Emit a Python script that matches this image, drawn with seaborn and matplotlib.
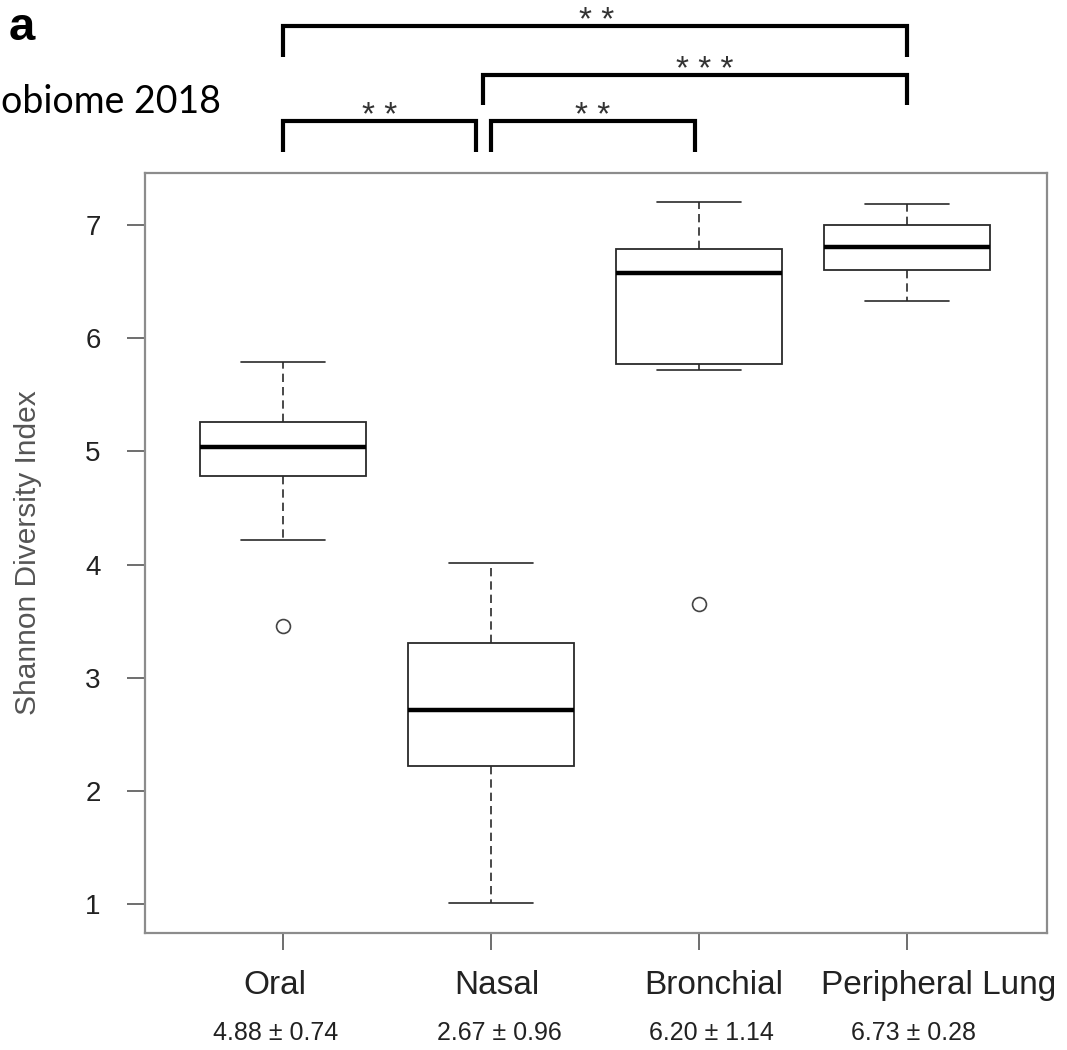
import matplotlib
matplotlib.use("Agg")
import matplotlib.pyplot as plt
import pandas as pd
import seaborn as sns

# Shannon diversity per sampling site: five-number summaries and outliers
sites = ["Oral", "Nasal", "Bronchial", "Peripheral Lung"]
lower_whisker = [4.22, 1.01, 5.72, 6.33]
q1 = [4.78, 2.22, 5.77, 6.60]
median = [5.04, 2.71, 6.58, 6.81]
q3 = [5.26, 3.31, 6.79, 7.00]
upper_whisker = [5.79, 4.01, 7.20, 7.19]
outliers = [[3.46], [], [3.65], []]

# mean ± sd reported under each site
means = [4.88, 2.67, 6.20, 6.73]
sds = [0.74, 0.96, 1.14, 0.28]

# significance labels for pairwise comparisons
sig_labels = ["* *", "* *", "* * *", "* *"]

# long-form table whose quartiles reproduce the summaries above
rows = []
for site, lo, a, m, b, hi, out in zip(sites, lower_whisker, q1, median, q3,
                                      upper_whisker, outliers):
    vals = (out if out else [lo]) + [lo, a, a, m, b, b, hi, hi]
    rows += [(site, v) for v in vals]
df = pd.DataFrame(rows, columns=["site", "value"])

sns.set_theme(style="ticks")
plt.rcParams["font.family"] = ["Liberation Sans", "DejaVu Sans"]

fig = plt.figure(figsize=(10.67, 10.5), dpi=100)
ax = fig.add_axes([0.1359, 0.1114, 0.8454, 0.7238])

line_col = "#2a2a2a"
sns.boxplot(
    data=df, x="site", y="value", order=sites, ax=ax,
    width=0.8, whis=1.5, color="white", linecolor=line_col, linewidth=1.3,
    capwidths=0.4,
    medianprops=dict(color="black", linewidth=3.2),
    whiskerprops=dict(color=line_col, linewidth=1.2, linestyle=(0, (5, 3))),
    capprops=dict(color=line_col, linewidth=1.2),
    flierprops=dict(marker="o", markersize=10, markerfacecolor="none",
                    markeredgecolor="#444444", markeredgewidth=1.2),
)

ax.set_xlim(-0.663, 3.673)
ax.set_ylim(0.743, 7.46)
ax.set_yticks(range(1, 8))
ax.set_xlabel("")
ax.set_ylabel("Shannon Diversity Index", fontsize=21.5, color="#555555",
              labelpad=31)

for sp in ax.spines.values():
    sp.set_visible(True)
    sp.set_color("#8c8c8c")
    sp.set_linewidth(1.6)

ax.tick_params(axis="y", direction="out", length=13, width=1.2,
               color="#555555", pad=19, labelsize=20, labelcolor="#222222")
ax.tick_params(axis="x", direction="out", length=12.5, width=1.2,
               color="#555555", labelbottom=False)

# site names and mean ± sd under each tick (horizontal offsets in data units)
name_shift = [-0.04, 0.03, 0.07, 0.15]
stat_shift = [-0.035, 0.04, 0.06, 0.03]
xtrans = ax.get_xaxis_transform()
for i, (site, m, s) in enumerate(zip(sites, means, sds)):
    ax.text(i + name_shift[i], -0.0684, site, transform=xtrans,
            ha="center", va="center", fontsize=24, color="#222222")
    ax.text(i + stat_shift[i], -0.1316, f"{m:.2f} \u00b1 {s:.2f}",
            transform=xtrans, ha="center", va="center", fontsize=18,
            color="#222222")

# significance brackets: x from, x to, bar height, leg bottom (data units)
brackets = [
    (0.0, 0.93, 7.92, 7.65),
    (1.0, 1.98, 7.92, 7.65),
    (0.96, 3.0, 8.33, 8.06),
    (0.0, 3.0, 8.76, 8.49),
]
label_shift = [0.0, 0.0, 0.05, 0.01]
for (x0, x1, ytop, ybot), lab, dx in zip(brackets, sig_labels, label_shift):
    ax.plot([x0, x0, x1, x1], [ybot, ytop, ytop, ybot], color="black",
            lw=3, clip_on=False, solid_joinstyle="miter", solid_capstyle="butt")
    ax.text((x0 + x1) / 2 + dx, ytop - 0.035, lab, ha="center", va="baseline",
            fontsize=24, color="#333333", clip_on=False)

fig.text(22 / 1067, 1 - 28 / 1050, "a", fontsize=34, fontweight="bold",
         ha="center", va="center", color="black")
fig.text(1 / 1067, 1 - 113 / 1050, "obiome 2018", fontsize=27,
         family=["Lato", "DejaVu Sans"], ha="left", va="baseline",
         color="black")

fig.savefig("out.png", dpi=100)
